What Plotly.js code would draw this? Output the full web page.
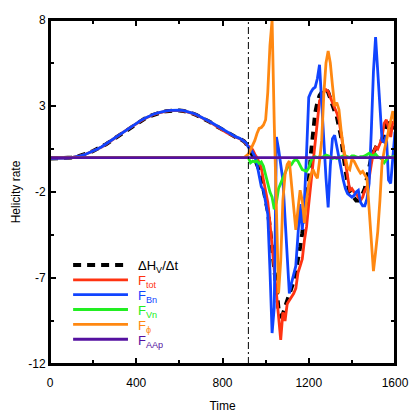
<!DOCTYPE html>
<html>
<head>
<meta charset="utf-8">
<script src="https://cdn.plot.ly/plotly-3.0.1.min.js"></script>
<style>
html,body{margin:0;padding:0;background:#fff;}
#chart{width:415px;height:415px;}
</style>
</head>
<body>
<div id="chart"></div>
<script>
// ---- data ----
const time = [
  0,20,40,60,80,100,120,140,160,180,200,220,240,260,280,300,320,340,360,380,
  400,420,440,460,480,500,520,540,560,580,600,620,640,660,680,700,720,740,760,780,
  800,820,840,860,880,900,
  910,920,930,940,950,960,970,980,990,1000,1010,1020,1030,1040,1050,1060,1070,1080,1090,1100,
  1110,1120,1130,1140,1150,1160,1170,1180,1190,1200,1210,1220,1230,1240,1250,1260,1270,1280,1290,1300,
  1310,1320,1330,1340,1350,1360,1370,1380,1390,1400,1410,1420,1430,1440,1450,1460,1470,1480,1490,1500,
  1510,1520,1530,1540,1550,1560,1570,1580,1590,1600
];

const dHdt = [
  -0.05,-0.05,-0.05,-0.05,-0.03,0.0,0.03,0.1,0.17,0.27,0.38,0.5,0.62,0.78,0.95,1.12,1.3,1.48,1.65,1.82,
  1.98,2.13,2.27,2.4,2.5,2.58,2.65,2.7,2.73,2.75,2.74,2.71,2.65,2.57,2.47,2.35,2.22,2.08,1.92,1.78,
  1.6,1.45,1.3,1.2,1.1,0.95,
  0.8,0.6,0.3,0.1,-0.1,-0.4,-0.7,-1.2,-1.8,-2.4,-3.1,-4.1,-5.3,-6.6,-7.9,-8.8,-9.2,-9.1,-8.7,-8.3,
  -8.0,-7.6,-7.2,-6.6,-6.0,-5.2,-4.4,-3.5,-2.5,-1.4,0.2,1.5,2.6,3.2,3.6,3.8,3.9,4.0,3.8,3.4,
  3.0,2.7,2.4,1.9,1.2,0.2,-0.7,-1.5,-2.0,-2.2,-2.4,-2.5,-2.5,-2.4,-2.1,-1.8,-1.2,-0.6,0.0,0.3,
  0.6,0.8,0.9,1.0,1.5,2.0,2.0,1.6,1.8,1.5
];

const fTot = [
  -0.05,-0.05,-0.05,-0.05,-0.03,0.0,0.03,0.1,0.17,0.27,0.38,0.5,0.62,0.78,0.95,1.12,1.3,1.48,1.65,1.82,
  1.98,2.13,2.27,2.4,2.5,2.58,2.65,2.7,2.73,2.75,2.74,2.71,2.65,2.57,2.47,2.35,2.22,2.08,1.92,1.78,
  1.6,1.45,1.3,1.2,1.1,0.95,
  0.8,0.65,0.6,0.45,0.2,0.0,-0.3,-0.6,-1.3,-2.0,-2.6,-3.8,-5.2,-6.8,-8.0,-9.4,-10.6,-9.0,-9.5,-8.5,
  -8.3,-8.1,-7.9,-7.6,-6.7,-6.3,-5.9,-4.8,-4.0,-2.7,-1.5,-0.3,1.0,2.3,3.3,3.5,3.8,3.95,3.85,3.5,
  3.2,3.0,2.6,2.2,1.4,0.5,-0.4,-1.2,-1.9,-1.8,-2.0,-2.1,-2.3,-2.5,-2.3,-1.9,-1.7,-1.2,-0.4,0.3,
  0.6,0.5,0.8,1.2,2.0,2.2,1.7,1.2,2.1,2.0
];

const fBn = [
  -0.05,-0.05,-0.05,-0.05,-0.03,0.0,0.03,0.1,0.17,0.27,0.38,0.5,0.63,0.8,0.97,1.14,1.32,1.5,1.67,1.84,
  2.0,2.15,2.29,2.42,2.52,2.6,2.67,2.72,2.75,2.77,2.76,2.73,2.67,2.59,2.49,2.37,2.24,2.1,1.95,1.8,
  1.63,1.48,1.33,1.22,1.12,0.97,
  0.85,0.6,0.5,0.3,0.05,-0.4,-1.0,-1.7,-1.9,-2.5,-3.3,-6.5,-10.2,-8.7,1.2,0.5,-0.5,-1.3,-3.5,-6.0,
  -7.9,-7.3,-6.8,-6.3,-4.5,-2.7,-4.2,-2.5,0.3,3.5,3.8,4.0,4.1,4.6,5.4,3.5,1.0,-1.2,-2.9,-0.5,
  1.1,1.3,0.6,0.0,-0.7,-1.3,-1.8,-2.1,-2.2,-2.3,-2.2,-2.0,-1.9,-2.6,-2.8,-2.8,-2.4,-1.5,1.5,5.0,
  7.0,5.0,3.0,1.0,0.9,1.3,-1.3,-1.5,0.0,1.5
];

const fVn = [
  0,0,0,0,0,0,0,0,0,0,0,0,0,0,0,0,0,0,0,0,
  0,0,0,0,0,0,0,0,0,0,0,0,0,0,0,0,0,0,0,0,
  0,0,0,0,0,0,
  0,0,-0.3,-0.2,-0.25,-0.2,-0.35,-0.25,-0.5,-1.0,-1.4,-2.0,-2.3,-3.0,-2.6,-1.8,-1.5,-1.2,-0.8,-0.6,
  -0.5,-0.4,-0.2,-0.1,-0.2,-0.5,-0.7,-0.75,-0.8,-0.6,-0.2,0.0,0.05,0.0,0.05,0.0,0.1,0.15,0.1,0.0,
  -0.05,0.0,-0.05,0.0,0.05,0.1,0.1,0.05,0.0,0.1,0.1,0.05,0.0,0.05,0.05,0.1,0.2,0.25,0.15,0.1,
  0.2,0.05,0.0,-0.1,-0.3,-0.1,0.05,0.0,0.05,0.05
];

const fPhi = [
  0,0,0,0,0,0,0,0,0,0,0,0,0,0,0,0,0,0,0,0,
  0,0,0,0,0,0,0,0,0,0,0,0,0,0,0,0,0,0,0,0,
  0,0,0,0,0,0,
  0.1,0.2,0.45,0.7,1.0,1.4,1.7,1.75,1.9,2.2,3.8,6.5,8.0,2.0,-4.0,-7.9,-6.0,-2.5,-1.0,-0.4,
  -0.2,-1.5,-3.0,-4.2,-3.0,-1.9,-2.5,-3.8,-2.5,-1.5,-1.0,-0.7,-1.0,-1.2,-0.2,1.0,3.7,5.5,6.2,5.5,
  4.2,3.0,3.2,2.8,1.6,0.6,0.0,-0.6,-0.7,-0.1,-0.2,-0.5,-0.7,-0.9,-0.8,-1.0,-1.2,-3.0,-5.0,-6.6,
  -5.5,-4.3,-2.5,-0.3,0.4,1.0,1.5,2.3,2.7,2.0
];

const fAAp = [
  0,0,0,0,0,0,0,0,0,0,0,0,0,0,0,0,0,0,0,0,
  0,0,0,0,0,0,0,0,0,0,0,0,0,0,0,0,0,0,0,0,
  0,0,0,0,0,0,
  0,0,0,0,0,0,0,0,0,0,0,0,0,0,0,0,0,0,0,0,
  0,0,0,0,0,0,0,0,0,0,0,0,0,0,0,0,0,0,0,0,
  0,0,0,0,0,0,0,0,0,0,0,0,0,0,0,0,0,0,0,0,
  0,0,0,0,0,0,0,0,0,0
];

const seriesNames = ['ΔH<sub>V</sub>/Δt', 'F<sub>tot</sub>', 'F<sub>Bn</sub>', 'F<sub>Vn</sub>', 'F<sub>ϕ</sub>', 'F<sub>AAp</sub>'];
const xTickVals = [0, 400, 800, 1200, 1600];
const xTickText = ['0', '400', '800', '1200', '1600'];
const yTickVals = [-12, -7, -2, 3, 8];
const yTickText = ['-12', '-7', '-2', '3', '8'];
const onsetTime = 920;

// ---- styling ----
const colors = ['#000000', '#ff3311', '#1144ff', '#22ee22', '#ff8811', '#5511a0'];
const values = [dHdt, fTot, fBn, fVn, fPhi, fAAp];
const lineStyle = i => i === 0
  ? {color: colors[i], width: 4, dash: '8px,6px'}
  : {color: colors[i], width: 2.8};

const traces = values.map((v, i) => ({
  x: time,
  y: v,
  type: 'scatter',
  mode: 'lines',
  name: seriesNames[i],
  showlegend: false,
  line: lineStyle(i)
}));

// legend drawn inside the plot area (paper coordinates)
const legX0 = 0.067, legX1 = 0.226, legTextX = 0.25;
const legY0 = 0.288, legStep = 0.0432;
const legendShapes = seriesNames.map((n, i) => {
  const ls = lineStyle(i);
  return {
    type: 'line', xref: 'paper', yref: 'paper',
    x0: legX0, x1: legX1, y0: legY0 - i * legStep, y1: legY0 - i * legStep,
    line: {color: ls.color, width: ls.width, dash: ls.dash || 'solid'}
  };
});
const legendTexts = seriesNames.map((n, i) => ({
  xref: 'paper', yref: 'paper',
  x: legTextX, y: legY0 - i * legStep,
  xanchor: 'left', yanchor: 'middle',
  yshift: -2,
  showarrow: false,
  text: n,
  font: {size: 13, color: colors[i]}
}));

const axisCommon = {
  showline: true,
  linecolor: '#000',
  linewidth: 2,
  mirror: 'ticks',
  ticks: 'inside',
  ticklen: 6,
  tickwidth: 2,
  tickcolor: '#000',
  showgrid: false,
  zeroline: false,
  tickfont: {family: 'Liberation Sans, Arial, sans-serif', size: 12, color: '#000'}
};

const layout = {
  width: 415,
  height: 415,
  margin: {l: 50, r: 20, t: 20, b: 51},
  paper_bgcolor: '#fff',
  plot_bgcolor: '#fff',
  font: {family: 'Liberation Sans, Arial, sans-serif', size: 12, color: '#000'},
  xaxis: Object.assign({}, axisCommon, {
    range: [0, 1600],
    tickmode: 'array',
    tickvals: xTickVals,
    ticktext: xTickText,
    ticklabelstandoff: 7,
    minor: {ticks: 'inside', ticklen: 4, tickwidth: 2, tickcolor: '#000', tickmode: 'linear', tick0: 0, dtick: 200},
    title: {text: 'Time', font: {size: 12}, standoff: 12}
  }),
  yaxis: Object.assign({}, axisCommon, {
    range: [-12, 8],
    tickmode: 'array',
    tickvals: yTickVals,
    ticktext: yTickText,
    minor: {ticks: 'inside', ticklen: 4, tickwidth: 2, tickcolor: '#000', tickmode: 'linear', tick0: -12, dtick: 2.5},
    title: {text: 'Helicity rate', font: {size: 12}, standoff: 5}
  }),
  showlegend: false,
  annotations: legendTexts,
  shapes: [{
    type: 'line', xref: 'x', yref: 'paper',
    x0: onsetTime, x1: onsetTime, y0: 0, y1: 1,
    line: {color: '#000', width: 1, dash: '7px,3px,2px,3px'}
  }, {
    type: 'rect', xref: 'paper', yref: 'paper',
    x0: 0, x1: 1, y0: 0, y1: 1,
    line: {color: '#000', width: 2},
    fillcolor: 'rgba(0,0,0,0)'
  }].concat(legendShapes)
};

Plotly.newPlot('chart', traces, layout, {displayModeBar: false, staticPlot: true});
</script>
</body>
</html>
